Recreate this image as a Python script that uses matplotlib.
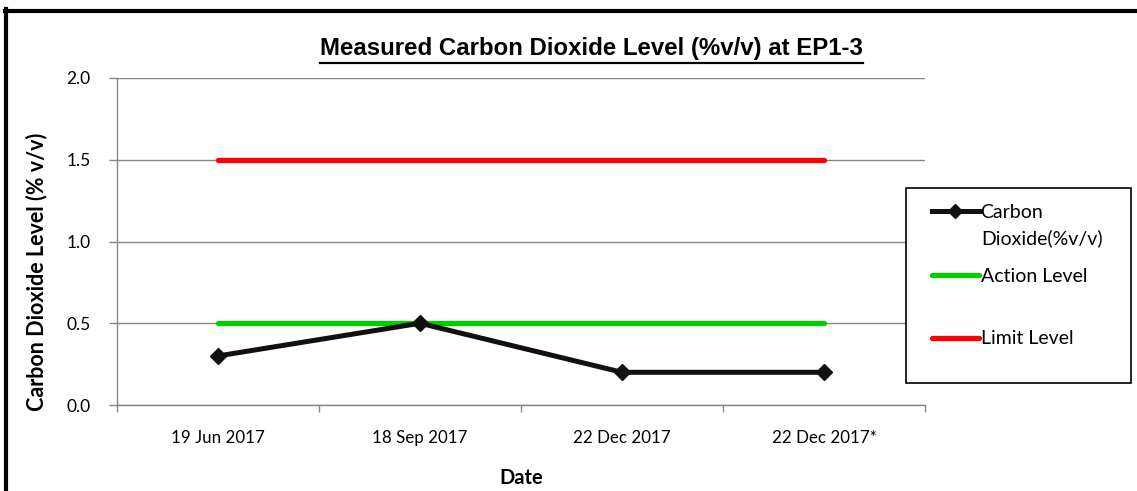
import matplotlib.pyplot as plt
from matplotlib.lines import Line2D
from matplotlib.patches import Rectangle
import numpy as np

dates = ['19 Jun 2017', '18 Sep 2017', '22 Dec 2017', '22 Dec 2017*']
co2 = [0.3, 0.5, 0.2, 0.2]
action_level = [0.5, 0.5, 0.5, 0.5]
limit_level = [1.5, 1.5, 1.5, 1.5]

label_font = 'Lato'
grid_col = '#868686'
W, H = 1137, 491

fig = plt.figure(figsize=(W / 100, H / 100), dpi=100)
ax = fig.add_axes([117 / W, 1 - 405 / H, 808 / W, 327 / H])

x = np.arange(len(dates))

# reference lines first, measured series on top
ax.plot(x, limit_level, color='#ff0000', lw=3.8, solid_capstyle='round', zorder=3)
ax.plot(x, action_level, color='#00cc00', lw=3.8, solid_capstyle='round', zorder=3)
ax.plot(x, co2, color='#111111', lw=3.6, marker='D', markersize=8,
        solid_joinstyle='round', zorder=4)

ax.set_xlim(-0.5, len(dates) - 0.5)
ax.set_ylim(0, 2.0)
ax.set_yticks(np.arange(0, 2.01, 0.5))
ax.set_yticklabels([f'{v:.1f}' for v in np.arange(0, 2.01, 0.5)],
                   fontsize=12.5, family=label_font)
ax.yaxis.grid(True, color=grid_col, lw=1)
ax.set_axisbelow(True)

# category labels centred, tick marks at the boundaries
ax.set_xticks(np.arange(-0.5, len(dates)), minor=False)
ax.set_xticklabels([])
ax.set_xticks(x, minor=True)
ax.set_xticklabels(dates, minor=True, fontsize=12.2, family=label_font)
ax.tick_params(axis='x', which='major', length=5, color=grid_col, width=1)
ax.tick_params(axis='x', which='minor', length=0, pad=18)
ax.tick_params(axis='y', length=6, color=grid_col, width=1, pad=13)

for side in ['top', 'right']:
    ax.spines[side].set_visible(False)
for side in ['left', 'bottom']:
    ax.spines[side].set_color(grid_col)
    ax.spines[side].set_linewidth(1)

ax.set_ylabel('Carbon Dioxide Level (% v/v)', fontsize=15.5, family=label_font,
              fontweight='bold', va='center')
ax.yaxis.set_label_coords((37 - 117) / 808, (405 - 272) / 327)
ax.set_xlabel('Date', fontsize=14.5, family=label_font, fontweight='bold', labelpad=16)

# underlined title
title = fig.text(591 / W, 1 - 49 / H, 'Measured Carbon Dioxide Level (%v/v) at EP1-3',
                 ha='center', va='center', fontsize=17.3, fontweight='bold',
                 family='Liberation Sans')
fig.canvas.draw()
bb = title.get_window_extent().transformed(fig.transFigure.inverted())
fig.add_artist(Line2D([bb.x0, bb.x1], [bb.y0 - 0.005, bb.y0 - 0.005],
                      transform=fig.transFigure, color='black', lw=1.6))

# legend: box drawn separately, one entry per row like Excel lays them out
fig.add_artist(Rectangle((906 / W, 1 - 383 / H), 225 / W, 195 / H, transform=fig.transFigure,
                         facecolor='white', edgecolor='black', lw=1.2, zorder=5))
entries = [
    (Line2D([], [], color='#111111', lw=3.6, marker='D', markersize=7), 'Carbon', 212),
    (Line2D([], [], color='#00cc00', lw=3.8, solid_capstyle='round'), 'Action Level', 276),
    (Line2D([], [], color='#ff0000', lw=3.8, solid_capstyle='round'), 'Limit Level', 339),
]
for h, lab, ypix in entries:
    leg = fig.legend([h], [lab], loc='center left', bbox_to_anchor=(932 / W, 1 - ypix / H),
                     frameon=False, prop={'family': label_font, 'size': 14},
                     handlelength=2.4, handletextpad=0.1, borderpad=0, borderaxespad=0)
    leg.set_zorder(6)
fig.text(981 / W, 1 - 238 / H, 'Dioxide(%v/v)', ha='left', va='center',
         fontsize=14, family=label_font, zorder=6)

# outer chart frame (left and top edges visible)
fig.add_artist(Line2D([6 / W, 6 / W], [0, 1 - 9 / H], transform=fig.transFigure,
                      color='black', lw=3))
fig.add_artist(Line2D([5 / W, 1], [1 - 11 / H, 1 - 11 / H], transform=fig.transFigure,
                      color='black', lw=3))

fig.savefig('out.png', dpi=100)
